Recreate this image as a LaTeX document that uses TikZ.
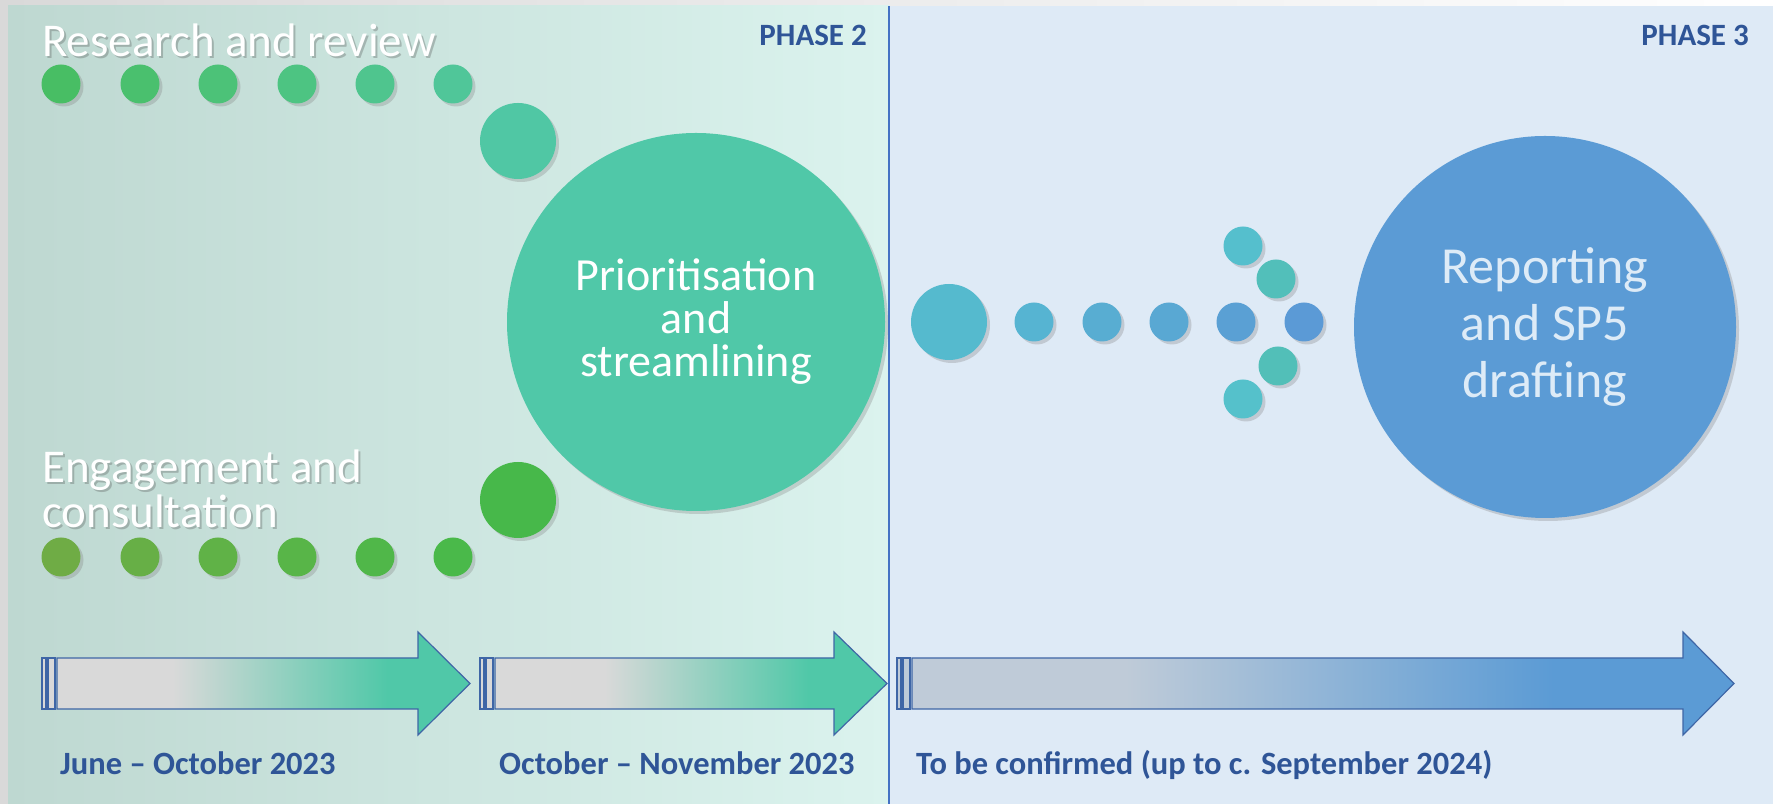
\documentclass[tikz,border=0pt]{standalone}
\usepackage{fontspec}
\setmainfont{Carlito}
\usetikzlibrary{shadows}

\definecolor{marginfill}{HTML}{D9D9D9}
\definecolor{panelleft}{HTML}{BED8D1}
\definecolor{panelright}{HTML}{DBF3EE}
\definecolor{panelblue}{HTML}{DEEAF6}
\definecolor{phaseline}{HTML}{4472C4}
\definecolor{textblue}{HTML}{2F5597}
\definecolor{arrowedge}{HTML}{3F66A6}
\definecolor{arrowgray}{HTML}{D9D9D9}
\definecolor{arrowslate}{HTML}{BFCBD8}
\definecolor{prioteal}{HTML}{50C8A8}
\definecolor{reportblue}{HTML}{5B9BD5}
\definecolor{reporttext}{HTML}{DDEBF7}

\pgfdeclarehorizontalshading{tealfade}{100bp}{color(0bp)=(arrowgray); color(39bp)=(arrowgray); color(65bp)=(prioteal); color(100bp)=(prioteal)}
\pgfdeclarehorizontalshading{bluefade}{100bp}{color(0bp)=(arrowslate); color(38bp)=(arrowslate); color(64bp)=(reportblue); color(100bp)=(reportblue)}

\tikzset{
  bead/.style={circle, inner sep=0pt, minimum size=39pt,
    drop shadow={opacity=0.3, shadow xshift=3pt, shadow yshift=-3pt}},
  bigbead/.style={bead, minimum size=76pt},
  hub/.style={bead, minimum size=378pt, align=center},
  whitetitle/.style={text=white, anchor=base west, inner sep=0pt, align=left,
    font=\fontsize{47}{45}\selectfont},
  titleshadow/.style={whitetitle, text=black!70, opacity=0.3},
  datelabel/.style={text=textblue, anchor=base west, inner sep=0pt,
    font=\bfseries\fontsize{32.5}{32}\selectfont},
  phaselabel/.style={datelabel, anchor=base east, font=\bfseries\fontsize{31}{31}\selectfont},
  timeline/.style={draw=arrowedge, line width=1.2pt, line join=miter},
}

\begin{document}
\begin{tikzpicture}[x=1pt, y=1pt]

\fill[left color=marginfill, right color=white] (0,0) rectangle (1773,804);
\fill[left color=panelleft, right color=panelright] (8,0) rectangle (889,798);
\fill[panelblue] (889,0) rectangle (1773,798);
\draw[phaseline, line width=1.3pt] (889,0) -- (889,798);

\node[phaselabel] (phase2) at (867,758) {PHASE 2};
\node[phaselabel] (phase3) at (1749,758) {PHASE 3};

\node[titleshadow] (researchsh) at (44,745) {Research and review};
\node[whitetitle] (research) at (42,747) {Research and review};
\node[titleshadow] (engagesh) at (44,274) {Engagement and\\consultation};
\node[whitetitle] (engage) at (42,276) {Engagement and\\consultation};

\node[bead, fill={rgb,255:red,72;green,190;blue,100}] (r1) at (61,720) {};
\node[bead, fill={rgb,255:red,74;green,192;blue,110}] (r2) at (140,720) {};
\node[bead, fill={rgb,255:red,76;green,194;blue,120}] (r3) at (218,720) {};
\node[bead, fill={rgb,255:red,77;green,196;blue,130}] (r4) at (297,720) {};
\node[bead, fill={rgb,255:red,79;green,197;blue,142}] (r5) at (375,720) {};
\node[bead, fill={rgb,255:red,80;green,198;blue,153}] (r6) at (453,720) {};
\node[bigbead, fill={rgb,255:red,80;green,199;blue,164}] (r7) at (518,663) {};

\node[bead, fill={rgb,255:red,111;green,172;blue,69}] (e1) at (61,247) {};
\node[bead, fill={rgb,255:red,103;green,175;blue,70}] (e2) at (140,247) {};
\node[bead, fill={rgb,255:red,96;green,178;blue,71}] (e3) at (218,247) {};
\node[bead, fill={rgb,255:red,88;green,181;blue,72}] (e4) at (297,247) {};
\node[bead, fill={rgb,255:red,80;green,183;blue,73}] (e5) at (375,247) {};
\node[bead, fill={rgb,255:red,74;green,185;blue,74}] (e6) at (453,247) {};
\node[bigbead, fill={rgb,255:red,71;green,184;blue,74}] (e7) at (518,304) {};

\node[hub, fill=prioteal, text=white, font=\fontsize{46}{43}\selectfont] (prio) at (696,482) {Prioritisation\\and\\streamlining};

\node[bigbead, fill={rgb,255:red,85;green,186;blue,206}] (s0) at (949,482) {};
\node[bead, fill={rgb,255:red,86;green,180;blue,210}] (s1) at (1034,482) {};
\node[bead, fill={rgb,255:red,88;green,173;blue,210}] (s2) at (1102,482) {};
\node[bead, fill={rgb,255:red,89;green,168;blue,211}] (s3) at (1169,482) {};
\node[bead, fill={rgb,255:red,90;green,160;blue,212}] (s4) at (1236,482) {};
\node[bead, fill={rgb,255:red,91;green,154;blue,214}] (s5) at (1304,482) {};
\node[bead, fill={rgb,255:red,85;green,191;blue,205}] (u1) at (1243,558) {};
\node[bead, fill={rgb,255:red,82;green,191;blue,186}] (u2) at (1276,525) {};
\node[bead, fill={rgb,255:red,82;green,191;blue,184}] (d2) at (1278,438) {};
\node[bead, fill={rgb,255:red,85;green,193;blue,203}] (d1) at (1243,405) {};

\node[hub, minimum size=382pt, fill=reportblue, text=reporttext, font=\fontsize{52}{57}\selectfont] (report) at (1545,477) {Reporting\\and SP5\\drafting};

\draw[timeline, fill=arrowgray] (42,95) rectangle (46,146);
\draw[timeline, fill=arrowgray] (48,95) rectangle (55,146);
\draw[timeline, shading=tealfade] (57,95) -- (418,95) -- (418,69) -- (470,120.5) -- (418,172) -- (418,146) -- (57,146) -- cycle;
\node[datelabel] (june) at (60,29) {June – October 2023};

\draw[timeline, fill=arrowgray] (480,95) rectangle (484,146);
\draw[timeline, fill=arrowgray] (486,95) rectangle (493,146);
\draw[timeline, shading=tealfade] (495,95) -- (834,95) -- (834,69) -- (887,120.5) -- (834,172) -- (834,146) -- (495,146) -- cycle;
\node[datelabel] (october) at (499,29) {October – November 2023};

\draw[timeline, fill=arrowslate] (897,95) rectangle (901,146);
\draw[timeline, fill=arrowslate] (903,95) rectangle (910,146);
\draw[timeline, shading=bluefade] (912,95) -- (1683,95) -- (1683,69) -- (1734,120.5) -- (1683,172) -- (1683,146) -- (912,146) -- cycle;
\node[datelabel] (tbc) at (916,29) {To be confirmed (up to c. September 2024)};

\end{tikzpicture}
\end{document}
